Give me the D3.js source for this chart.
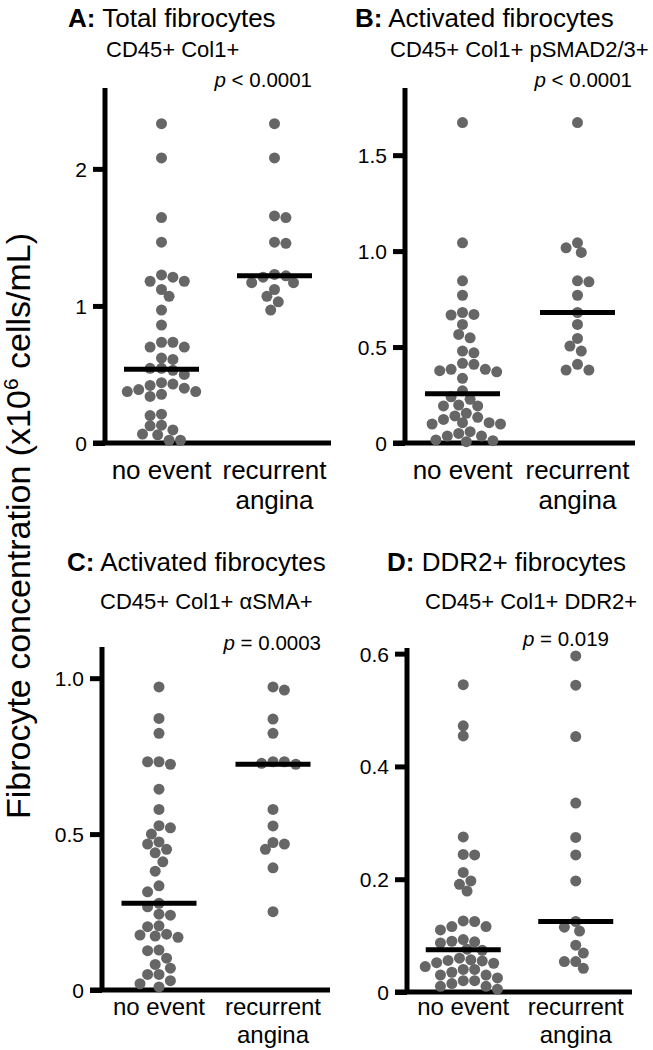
<!DOCTYPE html>
<html>
<head>
<meta charset="utf-8">
<script src="https://cdn.jsdelivr.net/npm/d3@7"></script>
<style>
body { margin: 0; background: #fff; }
text { font-family: "Liberation Sans", Arial, sans-serif; fill: #000; }
.dot { fill: #666; }
.med { stroke: #000; stroke-width: 5; }
.axis { stroke: #000; stroke-width: 5; fill: none; }
</style>
</head>
<body>
<script>
// ---- data (x10^6 cells/mL) ----
var groups = ["no event", "recurrent angina"];

var totalNoEvent = [2.33, 2.08, 1.645, 1.465, 1.226, 1.18, 1.21, 1.18, 1.12, 1.07, 0.97, 0.86,
  0.735, 0.735, 0.70, 0.70, 0.62, 0.61, 0.545, 0.53, 0.545, 0.50, 0.44, 0.42, 0.39, 0.375,
  0.34, 0.355, 0.375, 0.40, 0.43, 0.21, 0.20, 0.13, 0.095, 0.06, 0.02, 0.02, 0.065, 0.125];
var totalRecurrent = [2.33, 2.08, 1.657, 1.645, 1.457, 1.465, 1.23, 1.21, 1.17, 1.12, 1.17,
  1.22, 1.07, 1.03, 0.97];

var smadNoEvent = [1.67, 1.043, 0.845, 0.77, 0.68, 0.667, 0.67, 0.618, 0.548, 0.566, 0.47,
  0.479, 0.41, 0.384, 0.371, 0.337, 0.377, 0.384, 0.415, 0.272, 0.241, 0.228, 0.198, 0.193,
  0.193, 0.155, 0.141, 0.134, 0.106, 0.099, 0.099, 0.106, 0.123, 0.059, 0.036, 0.016, 0.007,
  0.012, 0.036, 0.05];
var smadRecurrent = [1.67, 1.043, 0.993, 1.017, 0.84, 0.845, 0.77, 0.68, 0.618, 0.545, 0.505,
  0.479, 0.41, 0.38, 0.38];

var smaNoEvent = [0.972, 0.871, 0.823, 0.732, 0.724, 0.732, 0.644, 0.579, 0.527, 0.5, 0.52,
  0.475, 0.451, 0.44, 0.411, 0.468, 0.381, 0.334, 0.315, 0.278, 0.267, 0.24, 0.243, 0.203,
  0.206, 0.176, 0.169, 0.179, 0.173, 0.126, 0.128, 0.102, 0.082, 0.07, 0.05, 0.03, 0.01,
  0.02, 0.05];
var smaRecurrent = [0.972, 0.962, 0.869, 0.823, 0.732, 0.727, 0.724, 0.732, 0.579, 0.526,
  0.473, 0.468, 0.451, 0.392, 0.251];

var ddr2NoEvent = [0.545, 0.472, 0.454, 0.275, 0.243, 0.244, 0.212, 0.197, 0.191, 0.179,
  0.125, 0.116, 0.11, 0.116, 0.126, 0.09, 0.087, 0.074, 0.076, 0.089, 0.093, 0.055, 0.051,
  0.06, 0.057, 0.052, 0.056, 0.04, 0.04, 0.035, 0.03, 0.03, 0.025, 0.02, 0.02, 0.015, 0.01,
  0.01, 0.005, 0.045];
var ddr2Recurrent = [0.596, 0.544, 0.453, 0.335, 0.274, 0.243, 0.197, 0.125, 0.108, 0.115,
  0.083, 0.069, 0.054, 0.054, 0.042];

var ticksA = [0, 1, 2],          tickLabelsA = ["0", "1", "2"];
var ticksB = [0, 0.5, 1, 1.5],   tickLabelsB = ["0", "0.5", "1.0", "1.5"];
var ticksC = [0, 0.5, 1],        tickLabelsC = ["0", "0.5", "1.0"];
var ticksD = [0, 0.2, 0.4, 0.6], tickLabelsD = ["0", "0.2", "0.4", "0.6"];

var titles = ["Total fibrocytes", "Activated fibrocytes", "Activated fibrocytes", "DDR2+ fibrocytes"];
var subtitles = ["CD45+ Col1+", "CD45+ Col1+ pSMAD2/3+", "CD45+ Col1+ \u03b1SMA+", "CD45+ Col1+ DDR2+"];
var pValues = ["< 0.0001", "< 0.0001", "= 0.0003", "= 0.019"];

// ---- layout ----
var W = 653, H = 1050;
var svg = d3.select("body").append("svg").attr("width", W).attr("height", H);

var panels = [
  {key: "A", data: [totalNoEvent, totalRecurrent], ticks: ticksA, labels: tickLabelsA, yMax: 2.59,
   ax: 105, xEnd: 331, y0: 443, yTop: 88, tx: 68, ty: 27, sx: 106, sy: 57, px: 312, py: 87, ly: 36, lg: 30, lf: 26},
  {key: "B", data: [smadNoEvent, smadRecurrent], ticks: ticksB, labels: tickLabelsB, yMax: 1.85,
   ax: 405, xEnd: 635, y0: 443, yTop: 88, tx: 355, ty: 27, sx: 390, sy: 57, px: 632, py: 87, ly: 36, lg: 30, lf: 26},
  {key: "C", data: [smaNoEvent, smaRecurrent], ticks: ticksC, labels: tickLabelsC, yMax: 1.10,
   ax: 102, xEnd: 330, y0: 990, yTop: 647, tx: 67, ty: 571, sx: 100, sy: 609, px: 321, py: 650, ly: 25, lg: 28, lf: 24},
  {key: "D", data: [ddr2NoEvent, ddr2Recurrent], ticks: ticksD, labels: tickLabelsD, yMax: 0.61,
   ax: 407, xEnd: 632, y0: 992, yTop: 648, tx: 387, ty: 571, sx: 425, sy: 609, px: 609, py: 646, ly: 23, lg: 28, lf: 24}
];

var R = 5.5;

// simple beeswarm: put each dot as close to the centre as it fits
function swarm(values, y, cx) {
  var pts = values.map(function(v) { return {v: v, y: y(v)}; })
    .sort(function(a, b) { return a.y - b.y; });
  var placed = [], minD = 2 * R * 0.92, step = 3.8;
  pts.forEach(function(p, i) {
    for (var k = 0; k < 40; k++) {
      var off = Math.ceil(k / 2) * step * (k % 2 ? ((i % 2) ? 1 : -1) : ((i % 2) ? -1 : 1));
      var ok = placed.every(function(q) {
        var dx = q.x - (cx + off), dy = q.y - p.y;
        return dx * dx + dy * dy >= minD * minD;
      });
      if (ok) { p.x = cx + off; break; }
    }
    placed.push(p);
  });
  return placed;
}

panels.forEach(function(P, pi) {
  var g = svg.append("g");
  var y = d3.scaleLinear().domain([0, P.yMax]).range([P.y0, P.yTop]);
  var x = d3.scaleBand().domain(groups).range([P.ax, P.xEnd]);

  // axes
  var yAxis = d3.axisLeft(y).tickValues(P.ticks).tickSize(12).tickPadding(6)
    .tickFormat(function(d, i) { return P.labels[i]; });
  var ya = g.append("g").attr("transform", "translate(" + P.ax + ",0)").call(yAxis);
  ya.select(".domain").remove();
  ya.selectAll(".tick line").attr("stroke", "#000").attr("stroke-width", 5);
  ya.selectAll(".tick text").style("font-size", "21px").attr("dy", "0.36em");
  g.append("line").attr("class", "axis")
    .attr("x1", P.ax).attr("x2", P.ax).attr("y1", P.yTop).attr("y2", P.y0);
  g.append("line").attr("class", "axis")
    .attr("x1", P.ax - 12).attr("x2", P.xEnd).attr("y1", P.y0).attr("y2", P.y0);

  // category labels
  groups.forEach(function(grp) {
    var cxg = x(grp) + x.bandwidth() / 2;
    var words = grp === "no event" ? ["no event"] : ["recurrent", "angina"];
    words.forEach(function(w, j) {
      g.append("text").attr("text-anchor", "middle").style("font-size", P.lf + "px")
        .attr("x", cxg).attr("y", P.y0 + P.ly + j * P.lg).text(w);
    });
  });

  // dots + medians
  P.data.forEach(function(vals, gi) {
    var cx = x(groups[gi]) + x.bandwidth() / 2;
    g.selectAll(null).data(swarm(vals, y, cx)).enter().append("circle")
      .attr("class", "dot").attr("r", R)
      .attr("cx", function(d) { return d.x; }).attr("cy", function(d) { return d.y; });
    var m = d3.median(vals);
    g.append("line").attr("class", "med")
      .attr("x1", cx - 37.5).attr("x2", cx + 37.5).attr("y1", y(m)).attr("y2", y(m));
  });

  // titles
  var t = g.append("text").attr("x", P.tx).attr("y", P.ty).style("font-size", "26px");
  t.append("tspan").style("font-weight", "bold").text(P.key + ":");
  t.append("tspan").text(" " + titles[pi]);
  g.append("text").attr("x", P.sx).attr("y", P.sy).style("font-size", "22px").text(subtitles[pi]);
  var pt = g.append("text").attr("x", P.px).attr("y", P.py).attr("text-anchor", "end").style("font-size", "20.5px");
  pt.append("tspan").style("font-style", "italic").text("p");
  pt.append("tspan").text(" " + pValues[pi]);
});

// shared y label
var yl = svg.append("text").attr("text-anchor", "middle").style("font-size", "34px")
  .attr("transform", "translate(30,526) rotate(-90)");
yl.append("tspan").text("Fibrocyte concentration (x10");
yl.append("tspan").attr("dy", -12).style("font-size", "21px").text("6");
yl.append("tspan").attr("dy", 12).text(" cells/mL)");
</script>
</body>
</html>
